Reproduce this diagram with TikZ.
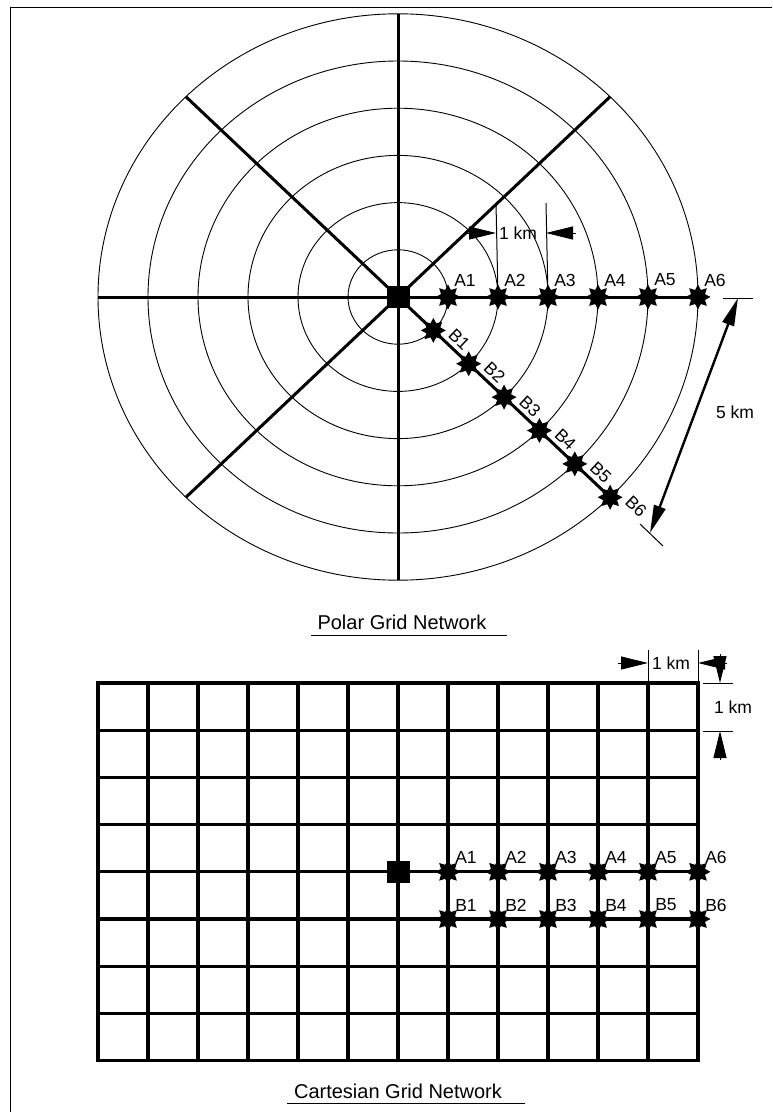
\documentclass[tikz,border=0pt]{standalone}
\usepackage{fontspec}
\setmainfont{Liberation Sans}
\usetikzlibrary{shapes.geometric,arrows.meta,calc}
\begin{document}
\begin{tikzpicture}[x=1pt,y=-1pt,
  gridline/.style={line width=3.2pt,line cap=rect},
  radial/.style={line width=3pt},
  ring/.style={line width=0.9pt},
  thinline/.style={line width=1pt},
  marker/.style={star,star points=8,star point ratio=1.65,fill=black,draw=none,inner sep=0pt,minimum size=25pt},
  hub/.style={rectangle,fill=black,minimum width=23pt,minimum height=22pt,inner sep=0pt},
  lbl/.style={font=\fontsize{17.5}{20}\selectfont,inner sep=0pt},
  ttl/.style={font=\fontsize{20}{23}\selectfont,inner sep=0pt},
  dimarrow/.style={line width=1pt,-{Triangle[length=27pt,width=13pt]}},
  dimboth/.style={line width=2.4pt,{Triangle[length=28pt,width=12pt]}-{Triangle[length=28pt,width=12pt]}},
]
\useasboundingbox (0,0) rectangle (772,1112);
% frame
\draw[line width=1pt] (10,1112) -- (10,7) -- (772,7);

%% ---------------- Polar grid ----------------
\coordinate (P) at (398,297);
\foreach \k in {1,...,6}
  \draw[ring] (P) ellipse [x radius=\k*50pt, y radius=\k*47.2pt];
\coordinate (PE) at (698,297);
\coordinate (PW) at (98,297);
\coordinate (PN) at (398,13.8);
\coordinate (PS) at (398,580.2);
\coordinate (PNW) at (185.9,96.7);
\coordinate (PSE) at (610.1,497.3);
\coordinate (PNE) at (610.1,96.7);
\coordinate (PSW) at (185.9,497.3);
\draw[radial] (PW) -- (PE);
\draw[radial] (PN) -- (PS);
\draw[radial] (PNW) -- (PSE);
\draw[radial] (PNE) -- (PSW);
\node[hub] (PH) at (P) {};
\foreach \k in {1,...,6} {
  \node[marker] (PA\k) at (398+50*\k,297) {};
  \node[lbl] (PAL\k) at ($(PA\k)+(17,-17)$) {A\k};
  \node[marker] (PB\k) at (398+35.355*\k,297+33.375*\k) {};
  \node[lbl,rotate=-43.4] (PBL\k) at ($(PB\k)+(26,9)$) {B\k};
}
% 1 km dimension (polar)
\coordinate (PX2) at (496,203);
\coordinate (PX3) at (546,203);
\draw[thinline] (PA2.center) -- (PX2);
\draw[thinline] (PA3.center) -- (PX3);
\coordinate (PD1s) at (466,233);
\coordinate (PD1e) at (496,233);
\coordinate (PD2s) at (576,233);
\coordinate (PD2e) at (546,233);
\draw[dimarrow] (PD1s) -- (PD1e);
\draw[dimarrow] (PD2s) -- (PD2e);
\node[lbl] (PKM) at (518,233) {1 km};
% 5 km dimension
\coordinate (T5a) at (723,298);
\coordinate (T5b) at (753,298);
\coordinate (L5a) at (640,524);
\coordinate (L5b) at (663,546);
\draw[thinline] (T5a) -- (T5b);
\draw[thinline] (L5a) -- (L5b);
\coordinate (T5) at (738,298);
\coordinate (L5) at (650,533);
\draw[dimboth] (T5) -- (L5);
\node[lbl] (P5KM) at (735,412) {5 km};
% title
\node[ttl] (PT) at (402,622) {Polar Grid Network};
\draw[thinline] (311,635) -- (507,635);

%% ---------------- Cartesian grid ----------------
\foreach \i in {0,...,12}
  \draw[gridline] (98+50*\i,683) -- (98+50*\i,1060.6);
\foreach \j in {0,...,8}
  \draw[gridline] (98,683+47.2*\j) -- (698,683+47.2*\j);
\node[hub] (CH) at (398,871.8) {};
\foreach \k in {1,...,6} {
  \node[marker] (CA\k) at (398+50*\k,871.8) {};
  \node[lbl] (CAL\k) at ($(CA\k)+(18,-14)$) {A\k};
  \node[marker] (CB\k) at (398+50*\k,919) {};
  \node[lbl] (CBL\k) at ($(CB\k)+(18,-14)$) {B\k};
}
% 1 km horizontal dimension
\coordinate (CX1) at (648,650);
\coordinate (CX1b) at (648,683);
\coordinate (CX2) at (698,650);
\coordinate (CX2b) at (698,683);
\draw[thinline] (CX1) -- (CX1b);
\draw[thinline] (CX2) -- (CX2b);
\coordinate (CH1s) at (618,663);
\coordinate (CH1e) at (648,663);
\coordinate (CH2s) at (727,663);
\coordinate (CH2e) at (698,663);
\draw[dimarrow] (CH1s) -- (CH1e);
\draw[dimarrow] (CH2s) -- (CH2e);
\node[lbl] (CKMH) at (671,663) {1 km};
% 1 km vertical dimension
\coordinate (CY1a) at (703,683);
\coordinate (CY1b) at (733,683);
\coordinate (CY2a) at (703,731);
\coordinate (CY2b) at (733,731);
\draw[thinline] (CY1a) -- (CY1b);
\draw[thinline] (CY2a) -- (CY2b);
\coordinate (CV1s) at (720,654);
\coordinate (CV1e) at (720,683);
\coordinate (CV2s) at (720,760);
\coordinate (CV2e) at (720,731);
\draw[dimarrow] (CV1s) -- (CV1e);
\draw[dimarrow] (CV2s) -- (CV2e);
\node[lbl] (CKMV) at (733,707) {1 km};
% title
\node[ttl] (CT) at (398,1091) {Cartesian Grid Network};
\draw[thinline] (287,1103) -- (525,1103);
\end{tikzpicture}
\end{document}
